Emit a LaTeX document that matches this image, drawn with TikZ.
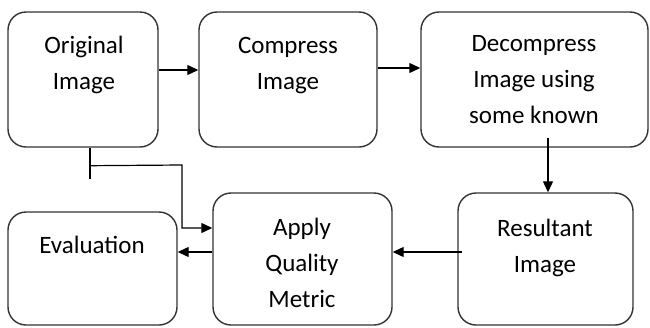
\documentclass[tikz,border=0pt]{standalone}
\usepackage{fontspec}
\setmainfont{Carlito}
\usetikzlibrary{arrows.meta,calc}
\begin{document}
\begin{tikzpicture}[x=1pt,y=-1pt,
  box/.style={draw=black!80,line width=1.4pt,rounded corners=18pt,inner sep=0pt},
  lbl/.style={anchor=base,align=center,inner sep=0pt,font=\fontsize{25}{36}\selectfont},
  arr/.style={line width=1.2pt,-{Triangle[length=11pt,width=10pt]}},
  ln/.style={line width=1.2pt}]
\useasboundingbox (0,0) rectangle (650,327);
\fill[white] (0,0) rectangle (650,327);
% boxes
\node[box,minimum width=150pt,minimum height=135pt] (A) at (83,79.5) {};
\node[box,minimum width=178pt,minimum height=135pt] (B) at (288,79.5) {};
\node[box,minimum width=227pt,minimum height=135pt] (C) at (534.5,79.5) {};
\node[box,minimum width=175pt,minimum height=132pt] (D) at (545.5,259) {};
\node[box,minimum width=179pt,minimum height=132pt] (E) at (302.5,259) {};
\node[box,minimum width=169pt,minimum height=113pt] (F) at (92.5,268.5) {};
% labels (anchor = baseline of the last line)
\node[lbl] (Al) at (84,89) {Original\\Image};
\node[lbl] (Bl) at (288,89) {Compress\\Image};
\node[lbl] (Cl) at (534,123) {Decompress\\Image using\\some known};
\node[lbl] (Dl) at (545,272) {Resultant\\Image};
\node[lbl] (El) at (302,307) {Apply\\Quality\\Metric};
\node[lbl] (Fl) at (92,253) {Evaluation};
% connectors
\draw[arr] ([yshift=9.5pt]A.east) -- ([yshift=9.5pt]B.west);
\draw[arr] ([yshift=11.5pt]B.east) -- ([yshift=11.5pt]C.west);
\coordinate (c1) at ([xshift=13.5pt,yshift=10pt]C.south);
\draw[arr] (c1) -- (c1 |- D.north);
\coordinate (d1) at ([xshift=5pt,yshift=7pt]D.west);
\draw[arr] (d1) -- (d1 -| E.east);
\coordinate (e1) at ([yshift=7pt]E.west);
\draw[arr] (e1) -- (e1 -| F.east);
\coordinate (a1) at ([xshift=7pt]A.south);
\coordinate (a2) at ([xshift=7pt,yshift=-31pt]A.south);
\coordinate (t) at ([xshift=7pt,yshift=-18pt]A.south);
\coordinate (k1) at (182,165);
\coordinate (k2) at (182,228);
\draw[ln] (a1) -- (a2);
\draw[arr] (t) -- (k1) -- (k2) -- (k2 -| E.west);
\end{tikzpicture}
\end{document}
